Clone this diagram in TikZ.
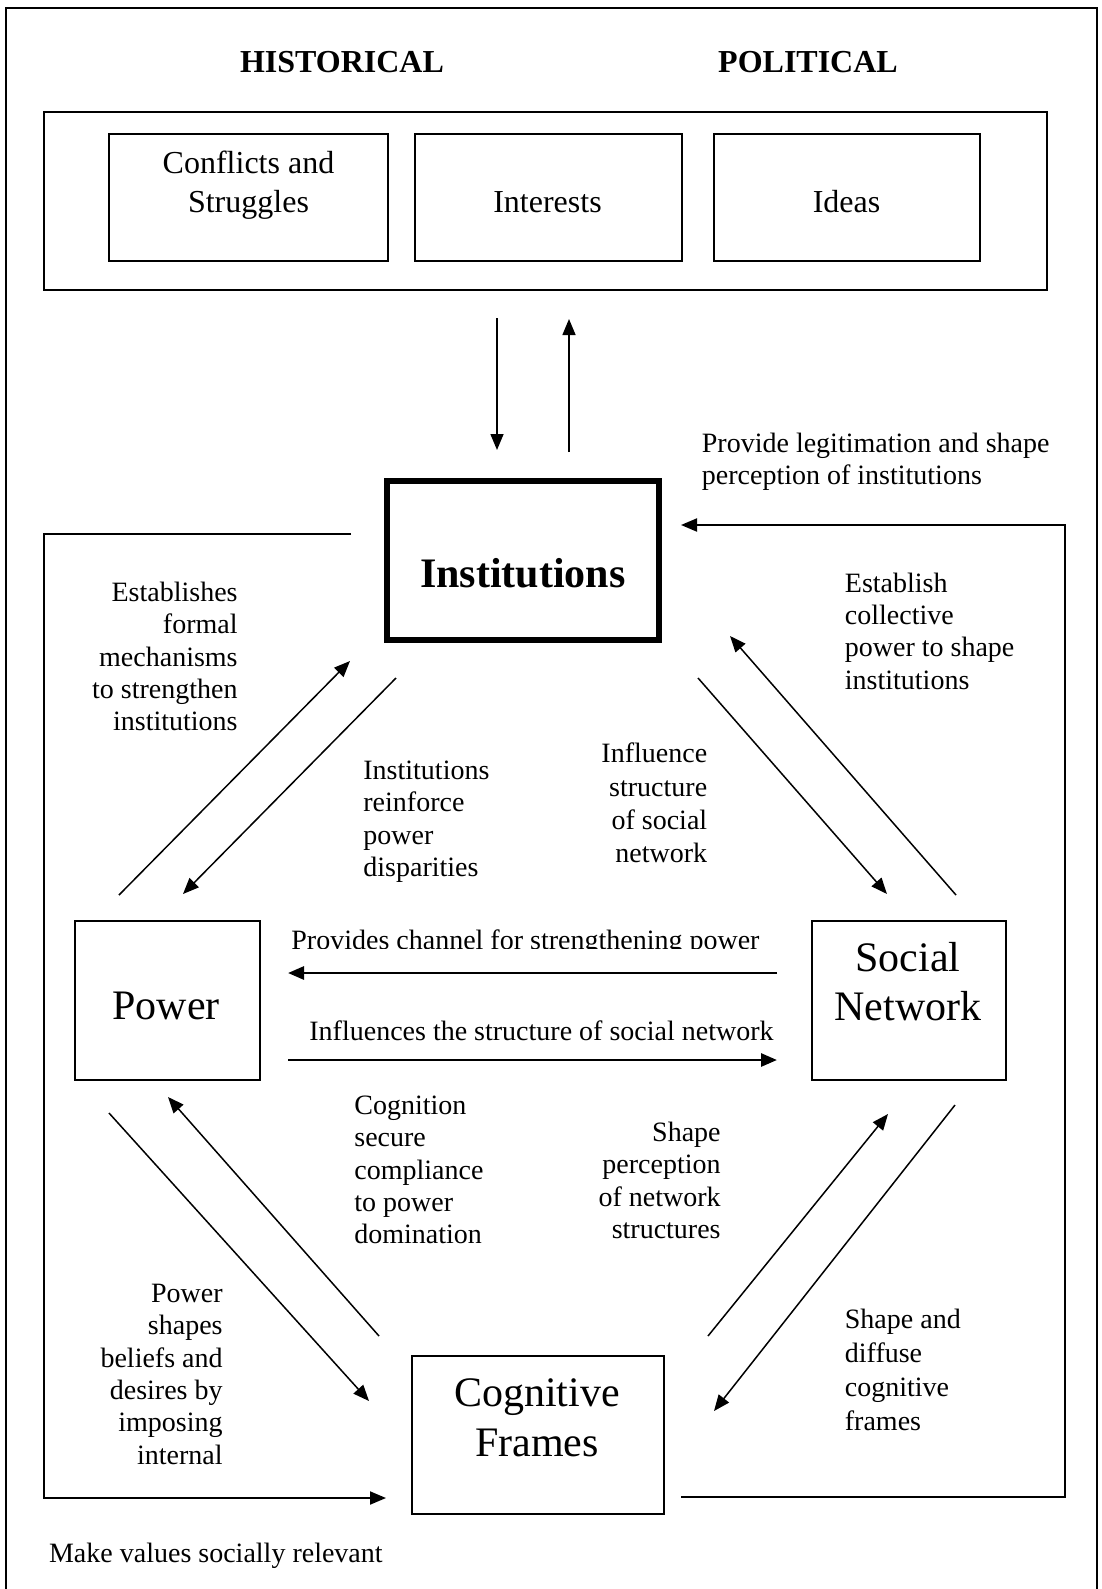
\documentclass[tikz,border=0pt]{standalone}
\usepackage{fontspec}
\setmainfont{Liberation Serif}
\usetikzlibrary{arrows.meta}

\tikzset{
  frame/.style={draw, line width=1pt, inner sep=0pt},
  boxtext/.style={inner sep=0pt, font=\fontsize{16}{19.2}\selectfont},
  bigtext/.style={inner sep=0pt, font=\fontsize{21}{25}\selectfont},
  lbl/.style={inner sep=0pt, font=\fontsize{14}{16.2}\selectfont},
  head/.style={inner sep=0pt, font=\fontsize{16}{19}\selectfont\bfseries},
  tip/.style={-{Triangle[length=8pt,width=6.5pt]}},
  link/.style={line width=0.75pt, tip},
  flow/.style={line width=1.4pt, tip},
  loop/.style={line width=1pt, tip},
}

\begin{document}
\begin{tikzpicture}[x=0.5pt, y=-0.5pt]
\useasboundingbox (0,0) rectangle (1102,1589);
\clip (0,0) rectangle (1102,1589);

% page frame (open at the bottom edge)
\draw[line width=1pt] (6,1600) -- (6,8) -- (1097,8) -- (1097,1600);

% headings
\node[head, anchor=base] (hist) at (342,72.5) {HISTORICAL};
\node[head, anchor=base] (pol) at (808,72.5) {POLITICAL};

% context panel
\node[frame, minimum width=501.7pt, minimum height=89pt] (context) at (545.3,201) {};
\node[frame, minimum width=139.5pt, minimum height=63.5pt] (conflicts) at (248.5,197.5) {};
\node[frame, minimum width=133.5pt, minimum height=63.5pt] (interests) at (548,197.5) {};
\node[frame, minimum width=133pt, minimum height=63.5pt] (ideas) at (847,197.5) {};
\node[boxtext, anchor=base] (tConflicts) at (248.5,174) {Conflicts and};
\node[boxtext, anchor=base] (tStruggles) at (248.5,212.5) {Struggles};
\node[boxtext, anchor=base] (tInterests) at (547.5,212.5) {Interests};
\node[boxtext, anchor=base] (tIdeas) at (846.5,212.5) {Ideas};

% main elements
\node[draw, line width=3pt, inner sep=0pt, minimum width=136pt, minimum height=79.5pt] (inst) at (523,560.5) {};
\node[frame, minimum width=92.5pt, minimum height=79.5pt] (power) at (167,1000) {};
\node[frame, minimum width=97pt, minimum height=79.5pt] (social) at (909,1000) {};
\node[frame, minimum width=126pt, minimum height=79pt] (cog) at (538,1435) {};
\node[bigtext, font=\fontsize{21}{25}\selectfont\bfseries, anchor=base] (tInst) at (523,587) {Institutions};
\node[bigtext, anchor=base] (tPower) at (166,1019.6) {Power};
\node[bigtext, anchor=base] (tSocial) at (908,971) {Social};
\node[bigtext, anchor=base] (tNetwork) at (908,1020.6) {Network};
\node[bigtext, anchor=base] (tCognitive) at (537,1406) {Cognitive};
\node[bigtext, anchor=base] (tFrames) at (537,1456.5) {Frames};

% connector end points
\coordinate (ctxA) at (497,318);  \coordinate (instA) at (497,450);
\coordinate (instB) at (569,452); \coordinate (ctxB) at (569,319);
\coordinate (powA) at (119,895);  \coordinate (instC) at (350,661);
\coordinate (instD) at (396,678); \coordinate (powB) at (183,894);
\coordinate (instE) at (698,678); \coordinate (socA) at (887,894);
\coordinate (socB) at (956,895);  \coordinate (instF) at (730,636);
\coordinate (socC) at (777,973);  \coordinate (powC) at (288,973);
\coordinate (powD) at (288,1060); \coordinate (socD) at (777,1060);
\coordinate (powE) at (109,1113); \coordinate (cogA) at (369,1401);
\coordinate (cogB) at (379,1336); \coordinate (powF) at (168,1097);
\coordinate (socE) at (955,1105); \coordinate (cogC) at (714,1411);
\coordinate (cogD) at (708,1336); \coordinate (socF) at (888,1114);
\coordinate (instG) at (351,534); \coordinate (cogE) at (386,1498);
\coordinate (cogF) at (681,1497); \coordinate (instH) at (681,525);

% context <-> institutions
\draw[link] (ctxA) -- (instA);
\draw[link] (instB) -- (ctxB);

% triangle of influences
\draw[link] (powA) -- (instC);
\draw[link] (instD) -- (powB);
\draw[link] (instE) -- (socA);
\draw[link] (socB) -- (instF);
\draw[flow] (socC) -- (powC);
\draw[flow] (powD) -- (socD);
\draw[link] (powE) -- (cogA);
\draw[link] (cogB) -- (powF);
\draw[link] (socE) -- (cogC);
\draw[link] (cogD) -- (socF);

% feedback loops around the triangle
\draw[loop] (instG) -| (43.6,1498) -- (cogE);
\draw[loop] (cogF) -| (1064.5,525) -- (instH);

% labels (anchored on the baseline of their last line)
\node[lbl, anchor=base west, align=left] (tLegit) at (701.5,484.5)
  {Provide legitimation and shape\\perception of institutions};
\node[lbl, anchor=base east, align=right] (tFormal) at (238,730.8)
  {Establishes\\formal\\mechanisms\\to strengthen\\institutions};
\node[lbl, anchor=base west, align=left] (tCollective) at (844.5,689.3)
  {Establish\\collective\\power to shape\\institutions};
\node[lbl, anchor=base west, align=left] (tReinforce) at (363,876.4)
  {Institutions\\reinforce\\power\\disparities};
\node[lbl, anchor=base east, align=right, font=\fontsize{14}{16.6}\selectfont] (tStructure) at (707.6,862.4)
  {Influence\\structure\\of social\\network};
\begin{scope}
  \clip (280,900) rectangle (790,948.5);
  \node[lbl, anchor=base west] (tChannel) at (291,949) {Provides channel for strengthening power};
\end{scope}
\node[lbl, anchor=base west] (tInfluences) at (309,1040) {Influences the structure of social network};
\begin{scope}
  \clip (340,1080) rectangle (560,1243);
  \node[lbl, anchor=base west, align=left] (tCompliance) at (354,1243.8)
    {Cognition\\secure\\compliance\\to power\\domination};
\end{scope}
\node[lbl, anchor=base east, align=right] (tPerception) at (721,1238.4)
  {Shape\\perception\\of network\\structures};
\node[lbl, anchor=base east, align=right] (tBeliefs) at (223,1464.2)
  {Power\\shapes\\beliefs and\\desires by\\imposing\\internal};
\node[lbl, anchor=base west, align=left, font=\fontsize{14}{17}\selectfont] (tDiffuse) at (844.5,1430.4)
  {Shape and\\diffuse\\cognitive\\frames};
\node[lbl, anchor=base west] (tValues) at (48.7,1562) {Make values socially relevant};
\end{tikzpicture}
\end{document}
